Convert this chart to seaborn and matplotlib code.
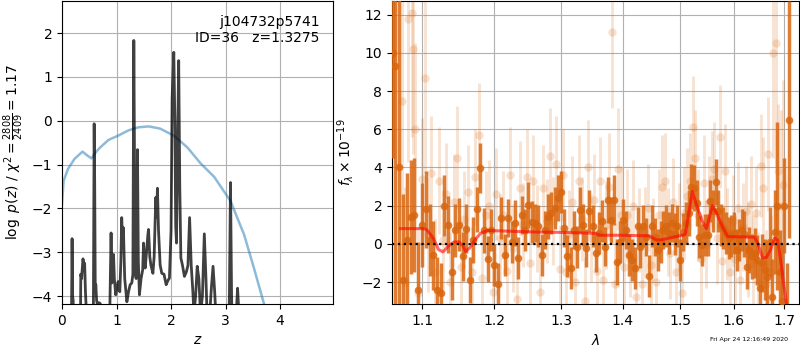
import matplotlib
matplotlib.use("Agg")
import matplotlib.pyplot as plt
import matplotlib.ticker as mticker
import numpy as np
import pandas as pd
import seaborn as sns

# ---------------- left panel: p(z) ----------------
pz_z = [
    0.00, 0.16, 0.175, 0.185, 0.195, 0.205, 0.22, 0.33, 0.345, 0.36,
    0.37, 0.385, 0.40, 0.415, 0.43, 0.445, 0.46, 0.57, 0.58, 0.59,
    0.60, 0.61, 0.62, 0.635, 0.65, 0.68, 0.70, 0.72, 0.74, 0.86,
    0.88, 0.90, 0.915, 0.93, 0.945, 0.96, 0.985, 1.01, 1.03, 1.06,
    1.08, 1.095, 1.11, 1.126, 1.15, 1.19, 1.22, 1.25, 1.28, 1.30,
    1.317, 1.33, 1.345, 1.36, 1.372, 1.384, 1.40, 1.42, 1.45, 1.48,
    1.495, 1.51, 1.526, 1.55, 1.575, 1.587, 1.61, 1.63, 1.667, 1.69,
    1.72, 1.735, 1.75, 1.77, 1.80, 1.83, 1.87, 1.91, 1.94, 1.97,
    2.00, 2.02, 2.05, 2.07, 2.085, 2.10, 2.12, 2.14, 2.16, 2.18,
    2.21, 2.245, 2.28, 2.31, 2.34, 2.37, 2.40, 2.42, 2.45, 2.48,
    2.51, 2.54, 2.575, 2.61, 2.64, 2.66, 2.71, 2.74, 2.77, 2.80,
    2.82, 2.85, 3.04, 3.07, 3.09, 3.11, 3.14, 3.18, 3.20, 3.22,
    3.24, 3.27, 4.97]
pz_logp = [
    -6, -6, -4.3, -2.69, -4.0, -4.1, -6, -6, -3.5, -3.6,
    -3.4, -3.15, -3.3, -3.25, -3.9, -4.3, -6, -6, -3.0, -0.07,
    -1.5, -3.9, -3.74, -4.1, -4.2, -4.15, -4.17, -4.25, -6, -6,
    -4.1, -2.56, -3.7, -3.3, -3.05, -3.6, -3.97, -3.8, -3.67, -3.9,
    -3.2, -2.21, -2.7, -2.44, -3.6, -4.13, -3.9, -3.74, -3.7, -3.5,
    1.83, -1.0, -3.5, -3.6, -3.0, -0.66, -3.2, -3.97, -3.6, -3.4,
    -2.79, -3.1, -3.36, -3.0, -2.6, -2.48, -3.1, -3.29, -3.48, -3.1,
    -1.75, -2.2, -1.54, -2.5, -3.29, -3.48, -3.5, -3.74, -3.65, -3.59,
    -2.5, 0.5, 1.56, 0.0, -2.4, -2.79, -0.5, 1.37, -1.5, -3.13,
    -3.3, -3.55, -3.45, -3.3, -2.21, -3.3, -3.9, -4.4, -4.0, -3.32,
    -3.6, -4.4, -4.0, -2.58, -3.6, -4.4, -4.4, -3.8, -3.32, -3.9,
    -4.4, -6, -6, -4.0, -1.41, -4.0, -6, -6, -4.3, -3.82,
    -4.3, -6, -6]

chi_z = [0.0, 0.03, 0.11, 0.23, 0.376, 0.45, 0.54, 0.62, 0.70, 0.85,
         1.03, 1.22, 1.40, 1.59, 1.80, 2.05, 2.30, 2.54, 2.79, 3.09,
         3.34, 3.52, 3.71, 3.80]
chi_val = [-1.9, -1.37, -1.10, -0.87, -0.705, -0.78, -0.86, -0.72, -0.61, -0.44,
           -0.34, -0.22, -0.15, -0.13, -0.18, -0.34, -0.61, -0.97, -1.28, -1.83,
           -2.6, -3.36, -4.2, -4.7]

# ---------------- right panel: spectrum ----------------
light_wave = [
    1.0735, 1.0775, 1.0810, 1.0865, 1.0887, 1.0905, 1.0950, 1.1000, 1.1045, 1.1075,
    1.1125, 1.1175, 1.1225, 1.1275, 1.1325, 1.1375, 1.1425, 1.1475, 1.1525, 1.1575,
    1.1625, 1.1675, 1.1725, 1.1775, 1.1825, 1.1875, 1.1925, 1.1975, 1.2025, 1.2075,
    1.2125, 1.2175, 1.2225, 1.2275, 1.2325, 1.2375, 1.2425, 1.2475, 1.2525, 1.2575,
    1.2625, 1.2675, 1.2725, 1.2775, 1.2825, 1.2875, 1.2925, 1.2975, 1.3025, 1.3075,
    1.3125, 1.3175, 1.3225, 1.3275, 1.3325, 1.3375, 1.3425, 1.3475, 1.3525, 1.3575,
    1.3625, 1.3675, 1.3725, 1.3775, 1.3825, 1.3875, 1.3925, 1.3975, 1.4025, 1.4075,
    1.4125, 1.4175, 1.4225, 1.4275, 1.4325, 1.4375, 1.4425, 1.4475, 1.4525, 1.4575,
    1.4625, 1.4675, 1.4725, 1.4775, 1.4825, 1.4875, 1.4925, 1.4975, 1.5025, 1.5075,
    1.5125, 1.5175, 1.5225, 1.5275, 1.5325, 1.5375, 1.5425, 1.5475, 1.5525, 1.5575,
    1.5625, 1.5675, 1.5725, 1.5775, 1.5825, 1.5875, 1.5925, 1.5975, 1.6025, 1.6075,
    1.6125, 1.6175, 1.6225, 1.6275, 1.6325, 1.6375, 1.6425, 1.6475, 1.6525, 1.6575,
    1.6625, 1.6675, 1.6725, 1.6775, 1.6825, 1.6875, 1.6925, 1.6975]
light_flux = [
    7.5, -2.0, 11.8, 12.1, 10.2, 6.0, -2.6, 3.4, 8.7, 0.5,
    3.7, -1.5, 3.3, 0.2, 2.6, -2.0, 2.2, 4.5, -1.2, 1.3,
    2.7, -1.5, 3.5, 5.7, -1.8, 1.5, 2.0, -2.5, 2.6, 0.3,
    1.5, -1.4, 3.6, -0.2, -2.9, 2.9, 1.0, 3.5, -1.0, 3.3,
    0.8, -2.5, 2.9, 1.2, 4.6, 1.2, 4.2, -1.3, 3.6, -1.5,
    0.5, 2.2, -2.0, 3.3, 1.3, -3.0, 4.0, 0.3, 2.3, -1.4,
    3.3, -1.9, 1.0, 3.0, 11.1, -2.1, 3.9, 1.5, -1.2, 1.5,
    -0.5, 2.0, -2.8, 0.7, -2.1, 0.6, 1.9, -1.1, 0.2, -2.0,
    1.5, 3.0, 3.3, 0.6, -0.5, 2.2, -1.5, 0.9, -2.6, 1.6,
    2.5, 3.3, 6.1, 4.5, 1.5, -0.8, 3.2, 0.0, 2.2, 3.4,
    3.9, 0.3, 5.6, -0.9, 3.8, 0.5, -1.5, 1.2, -0.8, 1.9,
    -1.9, 0.9, 1.7, -0.3, 2.1, -1.0, 1.6, -2.0, 4.1, 2.9,
    -2.1, 4.7, -1.5, 10.0, 10.5, 3.8, 2.0, 3.1]
light_err = [
    6.5, 5.0, 7.5, 6.5, 5.5, 4.5, 3.5, 3.2, 5.0, 3.0,
    3.0, 2.8, 2.8, 2.6, 2.7, 2.6, 2.5, 2.7, 2.4, 2.5,
    2.5, 2.4, 2.5, 2.7, 2.4, 2.3, 2.4, 2.3, 2.4, 2.3,
    2.3, 2.2, 2.5, 2.3, 2.3, 2.5, 2.2, 2.5, 2.3, 2.4,
    2.3, 2.4, 2.3, 2.2, 2.5, 2.3, 2.5, 2.3, 2.4, 2.3,
    2.3, 2.4, 2.3, 2.4, 2.2, 2.3, 2.5, 2.3, 2.4, 2.3,
    2.3, 2.4, 2.3, 2.8, 4.0, 3.2, 3.2, 2.5, 2.3, 2.4,
    2.3, 2.4, 2.3, 2.2, 2.3, 2.4, 2.3, 2.3, 2.2, 2.3,
    2.4, 2.7, 2.5, 2.3, 2.4, 2.3, 2.4, 2.3, 2.3, 2.4,
    2.5, 2.5, 2.7, 2.5, 2.4, 2.3, 2.5, 2.3, 2.4, 2.5,
    2.5, 2.4, 2.7, 2.3, 2.5, 2.4, 2.3, 2.4, 2.3, 2.4,
    2.4, 2.3, 2.4, 2.5, 2.5, 2.5, 2.5, 2.6, 2.7, 2.7,
    2.8, 3.0, 3.0, 5.5, 6.5, 3.5, 5.0, 5.5]

dark_wave = [
    1.062, 1.065, 1.070, 1.075, 1.080, 1.085, 1.090, 1.095, 1.100, 1.105, 1.110,
    1.115, 1.120, 1.125, 1.130, 1.135, 1.140, 1.145, 1.150, 1.155, 1.160,
    1.165, 1.170, 1.175, 1.180, 1.185, 1.190, 1.195, 1.200, 1.205, 1.210,
    1.215, 1.220, 1.225, 1.230, 1.235, 1.240, 1.245, 1.250, 1.255, 1.260,
    1.265, 1.270, 1.275, 1.280, 1.285, 1.290, 1.295, 1.300, 1.305, 1.310,
    1.315, 1.320, 1.325, 1.330, 1.335, 1.340, 1.345, 1.350, 1.355, 1.360,
    1.365, 1.370, 1.375, 1.380, 1.385, 1.390, 1.395, 1.400, 1.405, 1.410,
    1.415, 1.420, 1.425, 1.430, 1.435, 1.440, 1.445, 1.450, 1.455, 1.460,
    1.465, 1.470, 1.475, 1.480, 1.485, 1.490, 1.495, 1.500, 1.505, 1.510,
    1.515, 1.520, 1.525, 1.530, 1.535, 1.540, 1.545, 1.550, 1.555, 1.560,
    1.565, 1.570, 1.575, 1.580, 1.585, 1.590, 1.595, 1.600, 1.605, 1.610,
    1.615, 1.620, 1.625, 1.630, 1.635, 1.640, 1.645, 1.650, 1.655, 1.660,
    1.665, 1.670, 1.675, 1.680, 1.685, 1.690, 1.695, 1.700, 1.705, 1.710]
dark_flux = [
    10.0, 9.3, 4.0, -1.9, 0.2, 1.4, 1.5, -2.4, 1.0, 1.8, 0.2,
    -0.6, -2.4, -2.6, 2.0, 1.0, -1.45, 0.7, 1.0, -0.66, 0.8,
    -1.9, 0.2, 1.8, 3.96, 0.7, -0.8, 0.7, -1.1, -2.1, 1.34,
    -0.58, 1.34, 0.12, 1.08, -0.75, 1.52, 0.73, 2.04, 1.17, 1.08,
    0.91, -0.58, 0.73, 1.43, 1.6, 1.87, 2.4, 2.74, 0.84, -0.66,
    -1.26, 0.73, -0.14, 1.78, 1.0, -0.23, 1.7, 0.91, -0.5, 0.56,
    1.2, -0.14, 2.3, 1.26, 2.3, -0.93, 0.12, 1.26, 0.73, -0.58,
    -0.84, -1.26, 0.91, -0.14, 0.91, 0.38, -1.7, 0.91, 0.38, -0.31,
    0.12, 0.73, 0.91, 0.56, 1.08, 0.5, 0.91, -0.84, 0.6, 1.08,
    1.6, 3.0, 2.92, 2.13, 0.38, -0.05, 0.47, 0.47, 2.22, 1.7,
    3.26, 1.7, 1.0, 0.84, 0.56, 0.3, 0.4, 0.56, -0.3, 0.2,
    0.73, 0.5, -1.19, -0.31, -0.66, -0.49, -0.84, -2.32, -1.0, -1.36,
    -1.71, 0.12, -2.8, 0.6, 2.0, -1.5, -3.0, 2.0, -5.0, 6.5]
dark_err = [
    5.5, 16.0, 12.0, 4.5, 3.5, 3.0, 3.0, 2.5, 2.2, 2.0, 1.9,
    1.8, 1.7, 1.6, 1.6, 1.5, 1.5, 1.4, 1.4, 1.3, 1.3,
    1.2, 1.2, 1.2, 1.3, 1.2, 1.2, 1.1, 1.1, 1.1, 1.1,
    1.1, 1.0, 1.1, 1.2, 1.1, 1.0, 1.1, 1.2, 1.1, 1.0,
    1.1, 1.1, 1.0, 1.2, 1.1, 1.1, 1.2, 1.1, 1.0, 1.1,
    1.1, 1.0, 1.1, 1.2, 1.1, 1.0, 1.1, 1.1, 1.0, 1.1,
    1.1, 1.0, 1.2, 1.2, 1.3, 1.2, 1.1, 1.1, 1.0, 1.1,
    1.1, 1.1, 1.0, 1.1, 1.1, 1.0, 1.1, 1.1, 1.0, 1.1,
    1.1, 1.0, 1.1, 1.1, 1.0, 1.1, 1.1, 1.1, 1.0, 1.1,
    1.2, 1.2, 1.2, 1.2, 1.1, 1.1, 1.1, 1.1, 1.1, 1.1,
    1.2, 1.1, 1.1, 1.1, 1.1, 1.1, 1.1, 1.1, 1.1, 1.1,
    1.1, 1.2, 1.2, 1.2, 1.2, 1.3, 1.3, 1.4, 1.5, 1.6,
    1.7, 1.8, 2.0, 2.2, 4.4, 2.2, 3.0, 2.5, 4.0, 6.2]

model_wave = [1.072, 1.100, 1.106, 1.115, 1.122, 1.128, 1.136, 1.143, 1.150, 1.155,
              1.159, 1.165, 1.172, 1.180, 1.190, 1.250, 1.300, 1.355, 1.362, 1.400,
              1.445, 1.452, 1.458, 1.468, 1.480, 1.495, 1.505, 1.509, 1.522, 1.530,
              1.540, 1.548, 1.559, 1.567, 1.578, 1.588, 1.610, 1.640, 1.647, 1.656,
              1.664, 1.672, 1.680, 1.686, 1.692, 1.698, 1.705]
model_flux = [0.8, 0.8, 0.75, 0.3, -0.3, -0.42, -0.1, 0.1, 0.1, -0.1,
              -0.4, -0.2, 0.2, 0.55, 0.7, 0.63, 0.6, 0.55, 0.45, 0.45,
              0.42, 0.3, 0.2, 0.22, 0.3, 0.4, 0.45, 0.5, 2.74, 2.0,
              1.2, 0.8, 2.0, 1.6, 0.9, 0.38, 0.37, 0.35, 0.0, -0.75,
              -0.7, -0.3, 0.3, 0.2, -0.8, -2.0, -3.3]

zticks = [0, 1, 2, 3, 4]
pticks = [-4, -3, -2, -1, 0, 1, 2]
lam_ticks = [1.1, 1.2, 1.3, 1.4, 1.5, 1.6, 1.7]
fticks = [-2, 0, 2, 4, 6, 8, 10, 12]

# ---------------- figure ----------------
fig = plt.figure(figsize=(8, 3.5), dpi=100)
ax1 = fig.add_axes([62 / 800, 46 / 350, 271 / 800, 303 / 350])
ax2 = fig.add_axes([392 / 800, 46 / 350, 407 / 800, 303 / 350])

pz_df = pd.DataFrame({"z": pz_z, "logp": pz_logp})
chi_df = pd.DataFrame({"z": chi_z, "val": chi_val})

sns.lineplot(data=chi_df, x="z", y="val", ax=ax1, color="tab:blue", alpha=0.5,
             lw=1.8, sort=False, estimator=None, zorder=2)
sns.lineplot(data=pz_df, x="z", y="logp", ax=ax1, color="k", alpha=0.75,
             lw=2, sort=False, estimator=None, zorder=3)
ax1.set_xlim(0, 4.97)
ax1.set_ylim(-4.18, 2.73)
ax1.set_xticks(zticks)
ax1.set_yticks(pticks)
ax1.grid(True, color="#b0b0b0", lw=0.8)
ax1.set_axisbelow(True)
ax1.set_xlabel(r"$z$")
ax1.set_ylabel(r"$\log\ p(z)$ / $\chi^2=\frac{2808}{2409}=1.17$")
ax1.text(0.95, 0.955, "j104732p5741\nID=36   z=1.3275", ha="right", va="top",
         transform=ax1.transAxes, fontsize=10)

c = "#d9660f"
light_df = pd.DataFrame({"wave": light_wave, "flux": light_flux, "err": light_err})
dark_df = pd.DataFrame({"wave": dark_wave, "flux": dark_flux, "err": dark_err})
model_df = pd.DataFrame({"wave": model_wave, "flux": model_flux})

ax2.set_xscale("log")
ax2.errorbar(light_df["wave"], light_df["flux"], yerr=light_df["err"], fmt="none",
             ecolor=c, alpha=0.18, lw=2.1, zorder=2)
sns.scatterplot(data=light_df, x="wave", y="flux", ax=ax2, color=c, alpha=0.2,
                s=36, linewidth=0, zorder=2)
ax2.errorbar(dark_df["wave"], dark_df["flux"], yerr=dark_df["err"], fmt="none",
             ecolor=c, alpha=0.85, lw=2.5, zorder=3)
sns.scatterplot(data=dark_df, x="wave", y="flux", ax=ax2, color=c, alpha=0.85,
                s=30, linewidth=0, zorder=3)
sns.lineplot(data=model_df, x="wave", y="flux", ax=ax2, color="red", alpha=0.6,
             lw=2.2, sort=False, estimator=None, zorder=4)
ax2.axhline(0, color="k", ls=":", lw=1.6, zorder=5)

ax2.set_xlim(1.061, 1.730)
ax2.set_ylim(-3.15, 12.72)
ax2.xaxis.set_major_locator(mticker.FixedLocator(lam_ticks))
ax2.xaxis.set_minor_locator(mticker.NullLocator())
ax2.xaxis.set_major_formatter(mticker.FixedFormatter([f"{t:.1f}" for t in lam_ticks]))
ax2.set_yticks(fticks)
ax2.grid(True, color="#b0b0b0", lw=0.8)
ax2.set_axisbelow(True)
ax2.set_xlabel(r"$\lambda$")
ax2.set_ylabel(r"$f_\lambda\times10^{-19}$")

fig.text(0.985, 0.03, "Fri Apr 24 12:16:49 2020", ha="right", va="center", fontsize=4.5)

fig.savefig("out.png", dpi=100)
